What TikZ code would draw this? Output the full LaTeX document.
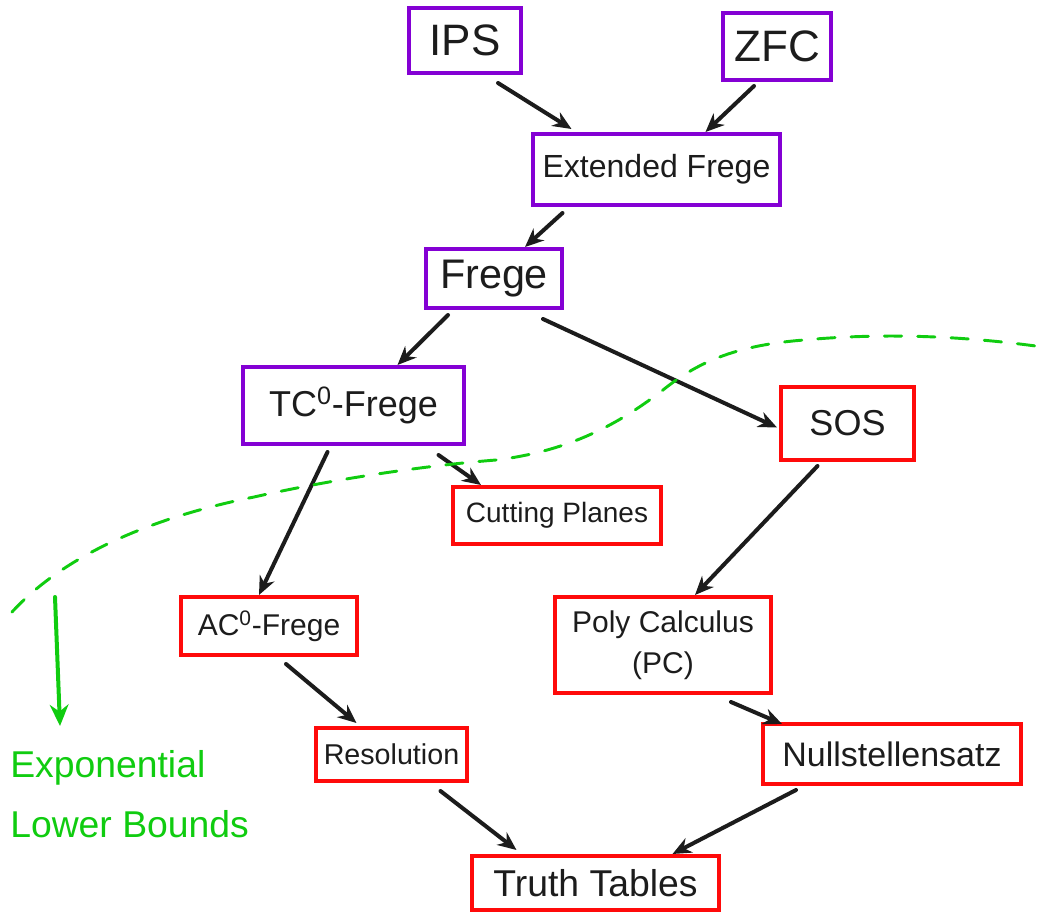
\documentclass[tikz,border=0pt]{standalone}
\usepackage{fontspec}
\setmainfont{Liberation Sans}
\usetikzlibrary{arrows.meta,calc}
\definecolor{ink}{HTML}{1C1C1C}
\definecolor{boxpurple}{HTML}{8400D4}
\definecolor{boxred}{HTML}{FF0A0A}
\definecolor{lbgreen}{HTML}{10CC10}
\newcommand{\fs}[1]{\fontsize{#1}{#1}\selectfont}
\tikzset{
  pbox/.style={draw=boxpurple, line width=3pt, inner sep=0pt, text=ink, align=center},
  rbox/.style={draw=boxred, line width=3pt, inner sep=0pt, text=ink, align=center},
  arr/.style={draw=ink, line width=3pt, line cap=round, -{Stealth[length=14pt,width=12pt]}},
  bound/.style={draw=lbgreen, line width=2.2pt, dash pattern=on 13pt off 12pt, line cap=round},
}
\begin{document}
\begin{tikzpicture}[x=0.75pt,y=-0.75pt]
\useasboundingbox (0,0) rectangle (1050,913);

% proof systems (boxes given by their corners in px)
\node[pbox, minimum width=84pt, minimum height=48.75pt, font=\fs{33}] (ips) at (465,40.5) {IPS};
\node[pbox, minimum width=81pt, minimum height=50.25pt, font=\fs{33}] (zfc) at (777,46.5) {ZFC};
\node[pbox, minimum width=185.25pt, minimum height=53.25pt, font=\fs{24}] (ef) at (656.5,169.5) {Extended Frege};
\node[pbox, minimum width=102pt, minimum height=44.25pt, font=\fs{31}] (frege) at (494,278.5) {Frege};
\node[pbox, minimum width=165.75pt, minimum height=57.75pt, font=\fs{27}] (tc) at (353.5,405.5) {TC\textsuperscript{0}-Frege};
\node[rbox, minimum width=99.75pt, minimum height=54.75pt, font=\fs{27}] (sos) at (847.5,423.5) {SOS};
\node[rbox, minimum width=156pt, minimum height=42.75pt, font=\fs{21}] (cp) at (557,515.5) {Cutting Planes};
\node[rbox, minimum width=132pt, minimum height=43.5pt, font=\fs{22.5}] (ac) at (269,626) {AC\textsuperscript{0}-Frege};
\node[rbox, minimum width=162pt, minimum height=72pt, font=\fs{22.5}, align=center] (pc) at (663,645) {Poly Calculus\\[8pt](PC)};
\node[rbox, minimum width=113.25pt, minimum height=39.75pt, font=\fs{21.5}] (res) at (391.5,754.5) {Resolution};
\node[rbox, minimum width=193.5pt, minimum height=45pt, font=\fs{25.5}] (null) at (892,754) {Nullstellensatz};
\node[rbox, minimum width=185.25pt, minimum height=40.5pt, font=\fs{28}] (tt) at (595.5,883) {Truth Tables};

% simulations
\draw[arr] ($(ips.south)+(33,8)$) -- ($(ef.north)+(-85,-3)$);
\draw[arr] ($(zfc.south)+(-23,4)$) -- ($(ef.north)+(49,0)$);
\draw[arr] ($(ef.south)+(-94,6)$) -- ($(frege.north)+(31,0)$);
\draw[arr] ($(frege.south)+(-46,5)$) -- ($(tc.north)+(44,0)$);
\draw[arr] ($(frege.south)+(49,9)$) -- ($(sos.west)+(-2,4)$);
\draw[arr] ($(tc.south)+(-26,6)$) -- ($(ac.north)+(-10,0)$);
\draw[arr] ($(tc.south)+(85,9)$) -- ($(cp.north)+(-76,0)$);
\draw[arr] ($(sos.south)+(-30,4)$) -- ($(pc.north)+(32,0)$);
\draw[arr] ($(ac.south)+(17,7)$) -- ($(res.north)+(-35,-3)$);
\draw[arr] ($(pc.south)+(68,7)$) -- ($(null.north)+(-110,2)$);
\draw[arr] ($(res.south)+(49,8)$) -- ($(tt.north)+(-79,-4)$);
\draw[arr] ($(null.south)+(-96,4)$) -- ($(tt.north)+(77,0)$);

% boundary of known exponential lower bounds
\draw[bound] (12,612) .. controls (60,560) and (140,520) .. (254,497)
  .. controls (330,480) and (420,466) .. (496,460)
  .. controls (580,450) and (630,415) .. (663,390)
  .. controls (700,360) and (740,345) .. (804,340)
  .. controls (880,333) and (960,335) .. (1050,348);
\coordinate (lbtop) at (55,597);
\node[text=lbgreen, font=\fs{28}, align=left, anchor=north west, inner sep=0pt] (lb) at (10,750)
  {Exponential\\[17pt]Lower Bounds};
\draw[draw=lbgreen, line width=3pt, line cap=round, -{Stealth[length=16pt,width=14pt]}] (lbtop) -- ($(lb.north west)+(50,-24)$);
\end{tikzpicture}
\end{document}
